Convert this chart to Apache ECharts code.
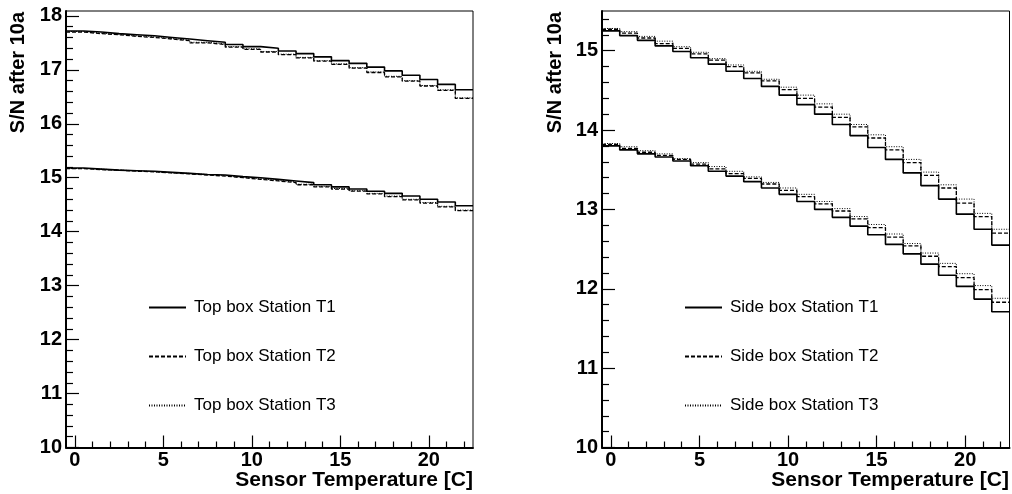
<!DOCTYPE html>
<html><head><meta charset="utf-8">
<script src="https://cdn.jsdelivr.net/npm/echarts@6/dist/echarts.min.js"></script>
<style>html,body{margin:0;padding:0;background:#fff}#c{width:1012px;height:494px}</style>
</head><body><div id="c"></div>
<script>
// Bin centres (sensor temperature, C)
const temps = [0,1,2,3,4,5,6,7,8,9,10,11,12,13,14,15,16,17,18,19,20,21,22];

// Left panel: Top box
const topUpperT1 = [17.72,17.70,17.67,17.65,17.63,17.60,17.57,17.54,17.51,17.47,17.43,17.40,17.35,17.30,17.24,17.17,17.12,17.05,16.98,16.90,16.82,16.73,16.63];
const topUpperT2 = [17.70,17.67,17.65,17.62,17.60,17.57,17.54,17.50,17.47,17.42,17.38,17.33,17.28,17.22,17.16,17.10,17.03,16.95,16.87,16.79,16.70,16.62,16.47];
const topUpperT3 = [17.71,17.68,17.66,17.63,17.61,17.58,17.55,17.51,17.48,17.43,17.39,17.34,17.29,17.23,17.17,17.11,17.04,16.96,16.88,16.80,16.71,16.63,16.48];
const topLowerT1 = [15.18,15.16,15.14,15.13,15.12,15.10,15.08,15.06,15.05,15.02,15.00,14.97,14.94,14.91,14.87,14.83,14.79,14.75,14.71,14.66,14.60,14.55,14.48];
const topLowerT2 = [15.17,15.15,15.14,15.12,15.11,15.09,15.07,15.05,15.03,15.00,14.97,14.94,14.91,14.87,14.83,14.79,14.75,14.70,14.65,14.59,14.53,14.46,14.39];
const topLowerT3 = [15.17,15.16,15.14,15.13,15.11,15.09,15.08,15.06,15.04,15.01,14.98,14.95,14.92,14.88,14.84,14.80,14.76,14.71,14.66,14.60,14.54,14.47,14.40];

// Right panel: Side box
const sideUpperT1 = [15.25,15.19,15.13,15.06,14.99,14.91,14.83,14.74,14.65,14.55,14.44,14.32,14.20,14.07,13.93,13.78,13.63,13.46,13.30,13.13,12.94,12.75,12.55];
const sideUpperT2 = [15.27,15.22,15.16,15.09,15.03,14.96,14.88,14.80,14.72,14.62,14.51,14.40,14.29,14.16,14.04,13.90,13.75,13.59,13.43,13.27,13.08,12.91,12.70];
const sideUpperT3 = [15.28,15.24,15.18,15.12,15.05,14.98,14.90,14.82,14.74,14.64,14.54,14.44,14.33,14.20,14.07,13.94,13.79,13.63,13.47,13.31,13.13,12.95,12.75];
const sideLowerT1 = [13.80,13.75,13.70,13.66,13.61,13.55,13.48,13.42,13.35,13.27,13.19,13.10,13.00,12.90,12.79,12.68,12.56,12.44,12.31,12.17,12.03,11.87,11.71];
const sideLowerT2 = [13.82,13.77,13.72,13.68,13.63,13.57,13.51,13.45,13.39,13.32,13.24,13.16,13.07,12.98,12.88,12.77,12.65,12.54,12.41,12.28,12.14,11.99,11.83];
const sideLowerT3 = [13.83,13.79,13.74,13.70,13.64,13.59,13.54,13.48,13.41,13.34,13.27,13.19,13.10,13.01,12.91,12.81,12.69,12.57,12.45,12.32,12.19,12.04,11.88];

const topNames = ['Top box Station T1','Top box Station T2','Top box Station T3'];
const sideNames = ['Side box Station T1','Side box Station T2','Side box Station T3'];

// Tick labels
const xTicks = [0,5,10,15,20];
const yTicksLeft = [10,11,12,13,14,15,16,17,18];
const yTicksRight = [10,11,12,13,14,15];
const yTitle = 'S/N after 10a';
const xTitle = 'Sensor Temperature [C]';

const FONT = 'Liberation Sans, Arial, Helvetica, sans-serif';
const halfBin = 0.5;

function minorTicks(lo, hi, step, majors) {
  const out = [];
  for (let v = lo; v <= hi + 1e-9; v += step) {
    const r = Math.round(v * 100) / 100;
    if (!majors.some(m => Math.abs(m - r) < 1e-6)) out.push(r);
  }
  return out;
}

function histData(vals) {
  const d = temps.map((t, i) => [t - halfBin, vals[i]]);
  d.push([temps[temps.length - 1] + halfBin, vals[vals.length - 1]]);
  return d;
}

const styles = [
  { width: 1.6, type: 'solid' },
  { width: 1.3, type: [4, 2] },
  { width: 1.0, type: [1, 1.5] }
];

function hist(name, vals, idx, st) {
  return {
    name, type: 'line', step: 'end', xAxisIndex: idx, yAxisIndex: idx,
    data: histData(vals), symbol: 'none', showSymbol: false, silent: true,
    lineStyle: { color: '#000', width: st.width, type: st.type }, z: 3
  };
}

const xMin = -0.5, xMax = 22.5;

function xAxes(gridIndex) {
  return [
    { type: 'value', gridIndex, position: 'bottom', min: xMin, max: xMax, splitLine: { show: false },
      axisLine: { show: true, onZero: false, lineStyle: { color: '#000', width: 2 } },
      axisTick: { show: true, inside: true, length: 12, customValues: xTicks, lineStyle: { color: '#000', width: 1.2 } },
      axisLabel: { show: true, customValues: xTicks, margin: 3, color: '#000', fontSize: 20, fontWeight: 'bold', fontFamily: FONT } },
    { type: 'value', gridIndex, position: 'bottom', min: xMin, max: xMax, splitLine: { show: false },
      axisLine: { show: false, onZero: false },
      axisTick: { show: true, inside: true, length: 6, customValues: minorTicks(0, 22, 1, xTicks), lineStyle: { color: '#000', width: 1.2 } },
      axisLabel: { show: false } }
  ];
}

function yAxes(gridIndex, max, majors) {
  return [
    { type: 'value', gridIndex, position: 'left', min: 10, max, splitLine: { show: false },
      axisLine: { show: true, onZero: false, lineStyle: { color: '#000', width: 2 } },
      axisTick: { show: true, inside: true, length: 13, customValues: majors, lineStyle: { color: '#000', width: 1.2 } },
      axisLabel: { show: true, customValues: majors, margin: 4, color: '#000', fontSize: 20, fontWeight: 'bold', fontFamily: FONT } },
    { type: 'value', gridIndex, position: 'left', offset: 0, min: 10, max, splitLine: { show: false },
      axisLine: { show: false, onZero: false },
      axisTick: { show: true, inside: true, length: 7, customValues: minorTicks(10, max, 0.2, majors), lineStyle: { color: '#000', width: 1.2 } },
      axisLabel: { show: false } }
  ];
}

function legendFor(names, left) {
  return {
    data: names, orient: 'vertical', left, top: 299, padding: 0,
    itemWidth: 37, itemHeight: 18, itemGap: 32, selectedMode: false,
    itemStyle: { color: 'rgba(0,0,0,0)', borderWidth: 0 },
    textStyle: { fontSize: 17, color: '#000', fontFamily: FONT, padding: [0, 0, 0, 3] }
  };
}

const chart = echarts.init(document.getElementById('c'), null, { renderer: 'canvas' });
chart.setOption({
  backgroundColor: '#fff',
  animation: false,
  grid: [
    { left: 66, top: 11, width: 407, height: 436.5, show: true, borderColor: '#000', borderWidth: 1, backgroundColor: 'rgba(0,0,0,0)' },
    { left: 602, top: 11, width: 407.5, height: 436.5, show: true, borderColor: '#000', borderWidth: 1, backgroundColor: 'rgba(0,0,0,0)' }
  ],
  xAxis: [...xAxes(0), ...xAxes(1)],
  yAxis: [...yAxes(0, 18.09, yTicksLeft), ...yAxes(1, 15.5, yTicksRight)],
  legend: [legendFor(topNames, 148), legendFor(sideNames, 684)],
  series: [
    hist(topNames[2], topUpperT3, 0, styles[2]),
    hist(topNames[2], topLowerT3, 0, styles[2]),
    hist(topNames[1], topUpperT2, 0, styles[1]),
    hist(topNames[1], topLowerT2, 0, styles[1]),
    hist(topNames[0], topUpperT1, 0, styles[0]),
    hist(topNames[0], topLowerT1, 0, styles[0]),
    hist(sideNames[2], sideUpperT3, 2, styles[2]),
    hist(sideNames[2], sideLowerT3, 2, styles[2]),
    hist(sideNames[1], sideUpperT2, 2, styles[1]),
    hist(sideNames[1], sideLowerT2, 2, styles[1]),
    hist(sideNames[0], sideUpperT1, 2, styles[0]),
    hist(sideNames[0], sideLowerT1, 2, styles[0])
  ],
  graphic: [
    { type: 'text', x: 18.5, y: 12, rotation: Math.PI / 2,
      style: { text: yTitle, align: 'right', verticalAlign: 'middle', fill: '#000', font: 'bold 20px ' + FONT } },
    { type: 'text', x: 555, y: 12, rotation: Math.PI / 2,
      style: { text: yTitle, align: 'right', verticalAlign: 'middle', fill: '#000', font: 'bold 20px ' + FONT } },
    { type: 'text', x: 473, y: 480, style: { text: xTitle, align: 'right', verticalAlign: 'middle', fill: '#000', font: 'bold 21px ' + FONT } },
    { type: 'text', x: 1009, y: 480, style: { text: xTitle, align: 'right', verticalAlign: 'middle', fill: '#000', font: 'bold 21px ' + FONT } }
  ]
});
</script>
</body></html>
